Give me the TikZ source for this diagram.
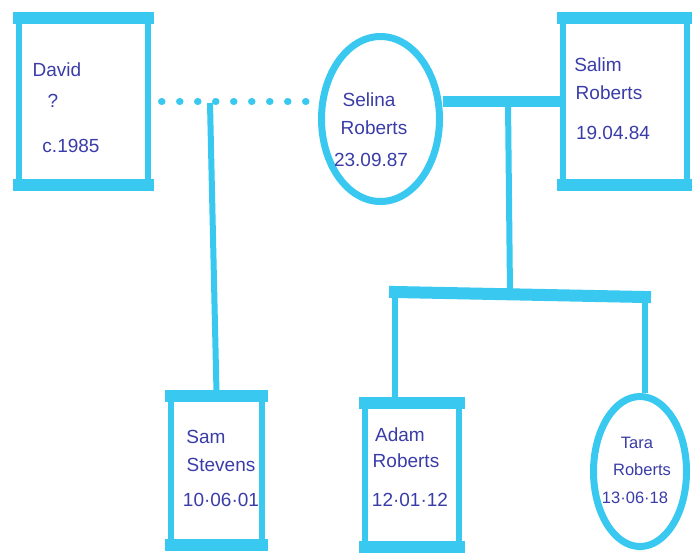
\documentclass[tikz,border=0pt]{standalone}
\usepackage{fontspec}
\setmainfont{Liberation Sans}
\usetikzlibrary{shapes.geometric}
\definecolor{marker}{HTML}{38C8F0}
\definecolor{ink}{HTML}{3A3DA8}
\tikzset{
  person/.style={draw=marker, line width=6pt, rectangle, inner sep=0pt},
  female/.style={draw=marker, line width=7pt, ellipse, inner sep=0pt},
  tie/.style={draw=marker, line width=6pt},
  dotline/.style={draw=marker, line width=7pt, line cap=round, dash pattern=on 0.5pt off 17.5pt},
  txt/.style={text=ink, font=\fontsize{19}{21}\selectfont, inner sep=0pt},
  smalltxt/.style={text=ink, font=\fontsize{16.5}{19}\selectfont, inner sep=0pt}
}
\newcommand\genobars[1]{%
  \fill[marker] ([shift={(-3pt,3pt)}]#1.north west) rectangle ([shift={(3pt,-9pt)}]#1.north east);
  \fill[marker] ([shift={(-3pt,-3pt)}]#1.south west) rectangle ([shift={(3pt,9pt)}]#1.south east);
}
\begin{document}
\begin{tikzpicture}[x=1pt,y=-1pt]
\useasboundingbox[fill=white] (0,0) rectangle (692,559);
% people
\node[person, minimum width=129pt, minimum height=167pt] (david) at (83,101.5) {};
\node[female, minimum width=118pt, minimum height=165pt] (selina) at (380.5,119) {};
\node[person, minimum width=124pt, minimum height=167pt] (salim) at (625,101.5) {};
\node[person, minimum width=91pt, minimum height=149pt] (sam) at (216.5,470.5) {};
\node[person, minimum width=94pt, minimum height=144pt] (adam) at (412,475) {};
\node[female, minimum width=93pt, minimum height=150pt] (tara) at (640,471.5) {};
\genobars{david}
\genobars{salim}
\genobars{sam}
\genobars{adam}
% connectors
\coordinate (dj) at (210,103);
\draw[dotline] ([xshift=11pt]david.east) -- ([xshift=-5pt]selina.west |- david.east);
\draw[tie] (dj) -- (sam.north);
\draw[tie, line width=10pt] (selina.east |- salim.west) -- (salim.west);
\coordinate (mj) at (508,103);
\coordinate (cj) at (510,293);
\coordinate (cl) at (395,292);
\coordinate (cr) at (645,297);
\draw[tie] (mj) -- (cj);
\draw[tie, line width=12pt, line cap=rect] (cl) -- (cr);
\draw[tie] (cl) -- (cl |- adam.north);
\draw[tie] (cr) -- (cr |- tara.north);
% texts
\node[txt] (d1) at (57,70) {David};
\node[txt] (d2) at (53,101) {?};
\node[txt] (d3) at (71,146) {c.1985};
\node[txt] (s1) at (369,100) {Selina};
\node[txt] (s2) at (374,128) {Roberts};
\node[txt] (s3) at (371,160) {23.09.87};
\node[txt] (m1) at (598,65) {Salim};
\node[txt] (m2) at (609,93) {Roberts};
\node[txt] (m3) at (613,133) {19.04.84};
\node[txt] (a1) at (206,437) {Sam};
\node[txt] (a2) at (221,465) {Stevens};
\node[txt] (a3) at (221,500) {10·06·01};
\node[txt] (b1) at (400,435) {Adam};
\node[txt] (b2) at (406,461) {Roberts};
\node[txt] (b3) at (410,500) {12·01·12};
\node[smalltxt] (t1) at (637,443) {Tara};
\node[smalltxt] (t2) at (642,470) {Roberts};
\node[smalltxt] (t3) at (635,498) {13·06·18};
\end{tikzpicture}
\end{document}
